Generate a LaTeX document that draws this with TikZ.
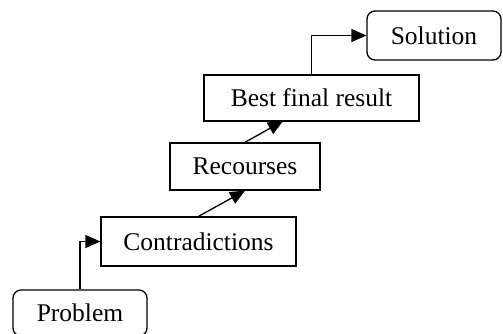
\documentclass[tikz,border=0pt]{standalone}
\usepackage{fontspec}
\setmainfont{Liberation Serif}
\usetikzlibrary{arrows.meta}
\begin{document}
\begin{tikzpicture}[x=1pt,y=-1pt,
  box/.style={draw, line width=1.3pt, inner sep=0pt, font=\fontsize{25.5}{30}\selectfont},
  rbox/.style={box, rounded corners=8pt},
  conn/.style={line width=1.3pt, -{Triangle[length=15pt,width=13pt]}}]
\useasboundingbox (0,0) rectangle (503,333);
\node[rbox, minimum width=134pt, minimum height=46pt] (problem) at (80,313) {Problem};
\node[box, minimum width=195pt, minimum height=49pt] (contra) at (198.5,241.5) {Contradictions};
\node[box, minimum width=150pt, minimum height=47pt] (recourses) at (245,166.5) {Recourses};
\node[box, minimum width=215pt, minimum height=46pt] (best) at (311.5,98) {Best final result};
\node[rbox, minimum width=134pt, minimum height=49pt] (solution) at (434,35.5) {Solution};
\coordinate (bestin) at (283,121);
\draw[conn] (problem.north) |- (contra.west);
\draw[conn] (contra.north) -- (recourses.south);
\draw[conn] (recourses.north) -- (bestin);
\draw[conn] (best.north) |- (solution.west);
\end{tikzpicture}
\end{document}
